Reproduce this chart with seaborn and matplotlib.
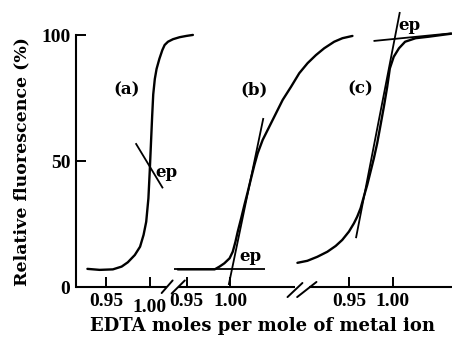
import matplotlib
matplotlib.use("Agg")
import matplotlib.pyplot as plt
import matplotlib.transforms as mtransforms
import numpy as np
import pandas as pd
import seaborn as sns

# ---------------- data (EDTA moles per mole of metal ion, relative fluorescence %) -------------
a_x = [0.929, 0.943, 0.958, 0.968, 0.975, 0.983, 0.989, 0.993, 0.996, 0.9985,
       1.000, 1.0015, 1.0028, 1.004, 1.0058, 1.0078, 1.011, 1.0144, 1.017, 1.0208,
       1.0265, 1.0341, 1.0417, 1.0492]
a_y = [7.2, 6.8, 7.0, 8.1, 9.8, 12.7, 16.0, 20.7, 25.9, 35.2,
       45.8, 57.7, 68.0, 76.5, 82.6, 86.6, 90.6, 94.1, 96.1, 97.4,
       98.4, 99.2, 99.7, 100.1]

b_x = [0.940, 0.982, 0.9875, 0.993, 0.999, 1.0026, 1.0057, 1.0083, 1.0122, 1.0159,
       1.0197, 1.0235, 1.0273, 1.031, 1.0367, 1.0443, 1.0519, 1.0595, 1.069, 1.0784,
       1.0879, 1.0974, 1.1068, 1.1182, 1.1276, 1.139]
b_y = [7.0, 7.0, 8.1, 9.4, 11.4, 14.0, 18.0, 22.0, 27.3, 32.6,
       37.8, 43.2, 48.5, 53.1, 58.4, 63.7, 69.0, 74.3, 79.5, 84.9,
       88.9, 92.1, 94.8, 97.4, 98.8, 99.7]

c_x = [0.8913, 0.9026, 0.914, 0.9254, 0.9349, 0.9424, 0.950, 0.9557, 0.9594, 0.9633,
       0.967, 0.9708, 0.9746, 0.9784, 0.9822, 0.986, 0.9898, 0.9936, 0.9966, 1.001,
       1.007, 1.014, 1.026, 1.041, 1.056, 1.067]
c_y = [9.6, 10.4, 12.0, 14.0, 16.3, 18.7, 22.0, 25.3, 27.9, 31.3,
       35.9, 40.5, 45.8, 51.1, 57.1, 64.3, 71.6, 79.5, 86.8, 91.4,
       94.8, 97.4, 98.8, 99.4, 100.1, 100.6]

# tangent lines drawn to locate the end points (ep)
a_tan_x = [0.984, 1.015]
a_tan_y = [57.1, 39.2]
b_tan1_x = [0.936, 1.039]
b_tan1_y = [7.0, 7.0]
b_tan2_x = [0.998, 1.0375]
b_tan2_y = [0.8, 67.1]
c_tan1_x = [0.958, 1.008]
c_tan1_y = [19.4, 109.2]
c_tan2_x = [0.978, 1.067]
c_tan2_y = [97.7, 100.75]

panel_names = ["(a)", "(b)", "(c)"]
panel_offsets = [0.0, 0.092, 0.277]          # broken-axis shift of each panel
tick_values = [0.95, 1.00]
tick_labels = ["0.95", "1.00"]
y_ticks = [0, 50, 100]
y_tick_labels = ["0", "50", "100"]

# label anchor positions (panel coords)
panel_label_x = [0.974, 1.027, 0.9625]
panel_label_y = [78.2, 78.2, 78.8]
ep_x = [1.0185, 1.0227, 1.0193]
ep_y = [45.5, 12.1, 104.0]

# ---------------- style ----------------
sns.set_style("ticks")
SERIF = ["DejaVu Serif"]
TICKF = ["Liberation Serif", "DejaVu Serif"]
plt.rcParams["font.family"] = SERIF
plt.rcParams["text.color"] = "black"
plt.rcParams["axes.edgecolor"] = "black"
plt.rcParams["xtick.color"] = "black"
plt.rcParams["ytick.color"] = "black"
plt.rcParams["axes.labelcolor"] = "black"

fig = plt.figure(figsize=(4.57, 3.45), dpi=100)
ax = fig.add_axes([76 / 457, 1 - 287 / 345, 376.5 / 457, 277 / 345])

frames = []
for name, off, xs, ys in zip(panel_names, panel_offsets, [a_x, b_x, c_x], [a_y, b_y, c_y]):
    frames.append(pd.DataFrame({"x": np.array(xs) + off, "y": ys, "panel": name}))
df = pd.concat(frames, ignore_index=True)

sns.lineplot(data=df, x="x", y="y", units="panel", estimator=None, sort=False,
             color="black", linewidth=1.7, ax=ax, legend=False)
for ln in ax.lines:
    ln.set_solid_joinstyle("round")
    ln.set_solid_capstyle("round")

tangents = [(a_tan_x, a_tan_y, 0), (b_tan1_x, b_tan1_y, 1), (b_tan2_x, b_tan2_y, 1),
            (c_tan1_x, c_tan1_y, 2), (c_tan2_x, c_tan2_y, 2)]
for tx, ty, i in tangents:
    ax.plot(np.array(tx) + panel_offsets[i], ty, color="black", lw=1.3,
            solid_capstyle="butt", clip_on=False)

ax.set_xlim(0.916, 1.345)
ax.set_ylim(0, 110)
ax.set_xlabel("")
ax.set_ylabel("")

# ticks
xt = [v + off for off in panel_offsets for v in tick_values]
xl = [l for off in panel_offsets for l in tick_labels]
xl[1] = ""   # the (a) 1.00 label is set lower, below the break marks
ax.set_xticks(xt)
ax.set_xticklabels(xl)
ax.set_yticks(y_ticks)
ax.set_yticklabels(y_tick_labels)
ax.tick_params(axis="both", direction="in", length=7, width=1.4, labelsize=14,
               colors="black")
ax.tick_params(axis="x", pad=4)
ax.tick_params(axis="y", pad=4)
for lab in ax.get_xticklabels() + ax.get_yticklabels():
    lab.set_fontweight("bold")
    lab.set_family(TICKF)
ax.text(xt[1], -0.042, tick_labels[1],
        transform=mtransforms.blended_transform_factory(ax.transData, ax.transAxes),
        ha="center", va="top", fontsize=14, fontweight="bold", family=TICKF,
        color="black")

sns.despine(ax=ax, top=True, right=True, bottom=True)
ax.spines["left"].set_bounds(0, 100)
ax.spines["left"].set_linewidth(1.5)
ax.spines["left"].set_color("black")

# broken x axis
seg = [(0.916, 1.020), (1.032, 1.165), (1.182, 1.345)]
for s0, s1 in seg:
    ax.plot([s0, s1], [0, 0], color="black", lw=1.5, clip_on=False, solid_capstyle="butt")
slashes = [((1.0136, 1.0261), (-2.4, 2.6)), ((1.025, 1.040), (-2.6, 2.6)),
           ((1.157, 1.174), (-4.0, 1.6)), ((1.168, 1.190), (-4.0, 2.0))]
for sx, sy in slashes:
    ax.plot(sx, sy, color="black", lw=1.4, clip_on=False)

# annotations
for i in range(3):
    ax.text(panel_label_x[i] + panel_offsets[i], panel_label_y[i], panel_names[i],
            ha="center", va="center", fontsize=12, fontweight="bold", color="black")
    ax.text(ep_x[i] + panel_offsets[i], ep_y[i], "ep", ha="center", va="center",
            fontsize=12, fontweight="bold", color="black")

fig.text(262 / 457, 1 - 326 / 345, "EDTA moles per mole of metal ion", ha="center",
         va="center", fontsize=13, fontweight="bold", color="black")
fig.text(22 / 457, 1 - 162 / 345, "Relative fluorescence (%)", ha="center", va="center",
         rotation=90, fontsize=12.5, fontweight="bold", color="black")

fig.savefig("out.png", dpi=100)
